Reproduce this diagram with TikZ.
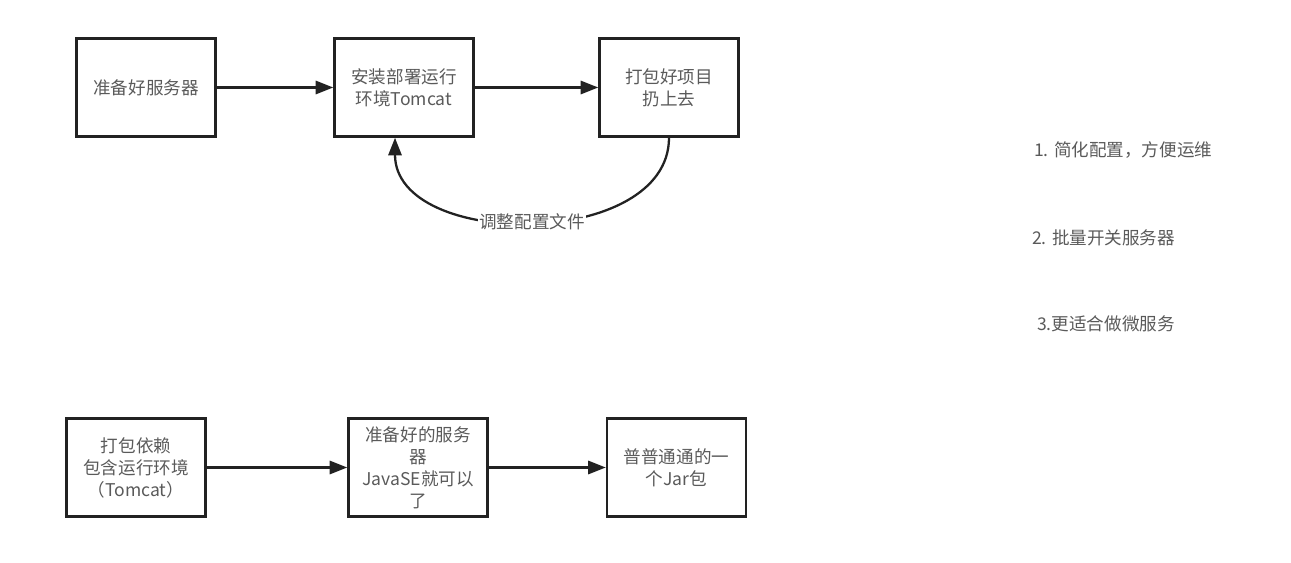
\documentclass[tikz,border=0pt]{standalone}
\usepackage{fontspec}
\setmainfont{Noto Sans CJK SC}
\usetikzlibrary{arrows.meta}
\definecolor{txtgray}{HTML}{5A5A5A}
\definecolor{linegray}{HTML}{222222}
\begin{document}
\begin{tikzpicture}[
  x=0.02cm, y=-0.02cm,
  stage/.style={rectangle, draw=linegray, line width=1.4pt, minimum width=2.78cm,
                minimum height=1.96cm, align=center, text=txtgray,
                font=\fontsize{10}{12.5}\selectfont},
  note/.style={anchor=west, text=txtgray, font=\fontsize{10}{12.5}\selectfont},
  arr/.style={-{Triangle[length=10pt, width=7.5pt]}, line width=1.3pt, linegray}
]
  \useasboundingbox (0,0) rectangle (1291,563);

  % Traditional deployment
  \node[stage] (server) at (146, 87.5) {准备好服务器};
  \node[stage] (tomcat) at (404, 87.5) {安装部署运行\\环境Tomcat};
  \node[stage] (upload) at (669, 87.5) {打包好项目\\扔上去};
  \draw[arr] (server) -- (tomcat);
  \draw[arr] (tomcat) -- (upload);
  \draw[arr] (upload.south) to[out=-90, in=-90, looseness=1.05]
    node[midway, fill=white, inner sep=1pt, text=txtgray,
         font=\fontsize{10}{12.5}\selectfont] {调整配置文件} (tomcat.south -| 395,0);

  % Advantages
  \node[note] (adv1) at (1028, 150) {1. 简化配置，方便运维};
  \node[note] (adv2) at (1026, 238) {2. 批量开关服务器};
  \node[note] (adv3) at (1031, 324) {3.更适合做微服务};

  % Jar deployment
  \node[stage] (bundle) at (136, 467.5) {打包依赖\\包含运行环境\\（Tomcat）};
  \node[stage] (javase) at (418, 467.5) {准备好的服务\\器\\JavaSE就可以\\了};
  \node[stage] (jar) at (676.5, 467.5) {普普通通的一\\个Jar包};
  \draw[arr] (bundle) -- (javase);
  \draw[arr] (javase) -- (jar);
\end{tikzpicture}
\end{document}
